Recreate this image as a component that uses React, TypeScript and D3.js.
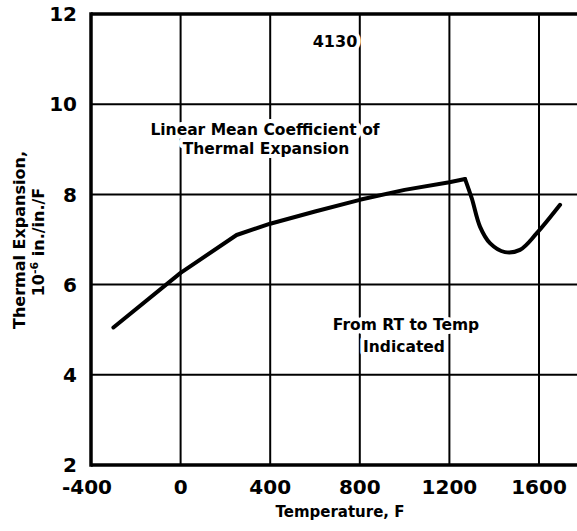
import React from "react";
import * as d3 from "d3";

const xTicks = [-400, 0, 400, 800, 1200, 1600];
const yTicks = [2, 4, 6, 8, 10, 12];
const xGrid = [0, 400, 800, 1200, 1600];
const yGrid = [4, 6, 8, 10];

// Rising portion (linear segments)
const tempsRise = [-300, 0, 250, 400, 600, 800, 1000, 1200, 1270];
const valuesRise = [5.05, 6.26, 7.1, 7.35, 7.62, 7.88, 8.1, 8.27, 8.34];
// Transformation dip (smooth)
const tempsDip = [1270, 1300, 1337, 1381, 1448, 1515, 1590, 1694];
const valuesDip = [8.34, 7.91, 7.28, 6.92, 6.72, 6.77, 7.14, 7.77];

const W = 577;
const H = 531;
const FONT = "'DejaVu Sans', sans-serif";

export default function App() {
  const x = d3.scaleLinear().domain([-400, 1800]).range([91, 583.8]);
  const y = d3.scaleLinear().domain([2, 12]).range([465, 14]);

  const rise = tempsRise.map((t, i) => [t, valuesRise[i]] as [number, number]);
  const dip = tempsDip.map((t, i) => [t, valuesDip[i]] as [number, number]);

  const lineLin = d3
    .line<[number, number]>()
    .x((d) => x(d[0]))
    .y((d) => y(d[1]))
    .curve(d3.curveLinear);
  const lineSmooth = d3
    .line<[number, number]>()
    .x((d) => x(d[0]))
    .y((d) => y(d[1]))
    .curve(d3.curveCatmullRom.alpha(0.5));

  const x0 = x(-400);
  const x1 = W + 5;
  const yTop = y(12);
  const yBot = y(2);

  const halo = {
    stroke: "#fff",
    strokeWidth: 8,
    paintOrder: "stroke" as const,
    strokeLinejoin: "round" as const,
  };

  return (
    <svg
      width={W}
      height={H}
      style={{ position: "absolute", left: 0, top: 0, display: "block", background: "#fff" }}
    >
      <rect x={0} y={0} width={W} height={H} fill="#fff" />
      {/* grid */}
      {xGrid.map((t) => (
        <line key={"gx" + t} x1={x(t)} x2={x(t)} y1={yTop} y2={yBot} stroke="#000" strokeWidth={2} />
      ))}
      {yGrid.map((v) => (
        <line key={"gy" + v} x1={x0} x2={x1} y1={y(v)} y2={y(v)} stroke="#000" strokeWidth={2} />
      ))}
      {/* frame */}
      <line x1={x0} x2={x1} y1={yTop} y2={yTop} stroke="#000" strokeWidth={3.5} />
      <line x1={x0} x2={x1} y1={yBot} y2={yBot} stroke="#000" strokeWidth={3.5} />
      <line x1={x0} x2={x0} y1={yTop - 1.75} y2={yBot + 1.75} stroke="#000" strokeWidth={3.5} />

      {/* annotations */}
      <g fontFamily={FONT} fontWeight="bold" fill="#000" textAnchor="middle">
        <text x={335} y={47} fontSize={16} {...halo}>4130</text>
        <text x={265} y={135} fontSize={15.5} {...halo}>Linear Mean Coefficient of</text>
        <text x={266} y={154} fontSize={15.5} {...halo}>Thermal Expansion</text>
        <text x={406} y={330} fontSize={15.5} {...halo}>From RT to Temp</text>
        <text x={404} y={352} fontSize={15.5} {...halo}>Indicated</text>
      </g>

      {/* curve */}
      <path d={lineLin(rise) || ""} fill="none" stroke="#000" strokeWidth={4} strokeLinecap="round" strokeLinejoin="round" />
      <path d={lineSmooth(dip) || ""} fill="none" stroke="#000" strokeWidth={4} strokeLinecap="round" strokeLinejoin="round" />

      {/* ticks */}
      <g fontFamily={FONT} fontWeight="bold" fill="#000" fontSize={20}>
        {xTicks.map((t) => (
          <text key={"xt" + t} x={x(t) - (t < 0 ? 4 : 0)} y={494} textAnchor="middle">
            {t}
          </text>
        ))}
        {yTicks.map((v) => (
          <text key={"yt" + v} x={77} y={y(v)} dy="0.36em" textAnchor="end">
            {v}
          </text>
        ))}
      </g>

      {/* axis titles */}
      <g fontFamily={FONT} fontWeight="bold" fill="#000">
        <text x={340} y={517} fontSize={15} textAnchor="middle">Temperature, F</text>
        <text transform="translate(25,240) rotate(-90)" fontSize={16} textAnchor="middle">
          Thermal Expansion,
        </text>
        <text transform="translate(44,242) rotate(-90)" fontSize={16} textAnchor="middle">
          <tspan>10</tspan>
          <tspan fontSize={11} dy={-6}>-6</tspan>
          <tspan dy={6}> in./in./F</tspan>
        </text>
      </g>
    </svg>
  );
}
